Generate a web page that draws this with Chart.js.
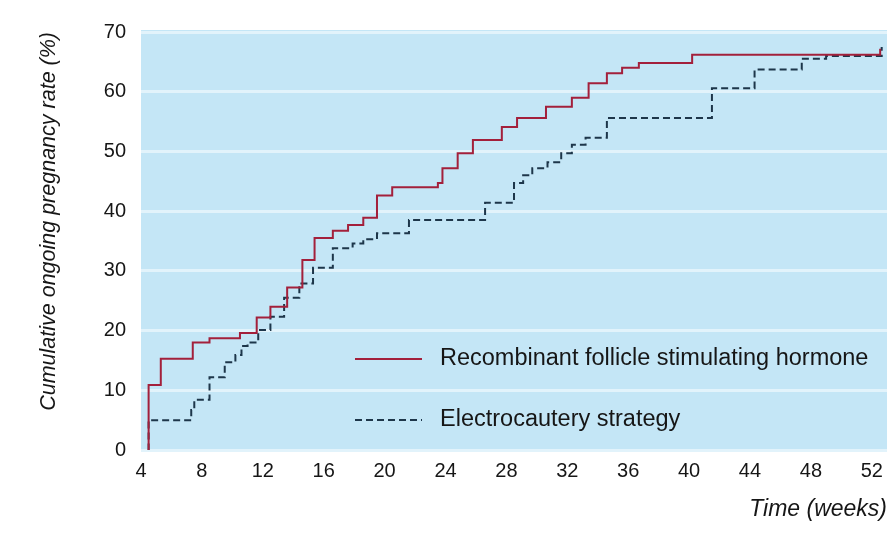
<!DOCTYPE html>
<html>
<head>
<meta charset="utf-8">
<script src="https://cdn.jsdelivr.net/npm/chart.js@4.4.1/dist/chart.umd.min.js"></script>
<style>
  html, body { margin: 0; padding: 0; background: #fff; }
  #wrap { width: 892px; height: 537px; }
</style>
</head>
<body>
<div id="wrap"><canvas id="kmChart" width="892" height="537"></canvas></div>
<script>
// Kaplan-Meier style steps: week of each event and cumulative rate (%) after it
const rfshWeeks = [4.46, 4.5, 5.3, 7.4, 8.5, 10.5, 11.6, 12.5, 13.6, 14.6, 15.4, 16.6, 17.6, 18.6, 19.5,
  20.5, 23.5, 23.8, 24.8, 25.8, 27.7, 28.7, 30.6, 32.3, 33.4, 34.6, 35.6, 36.7, 40.2, 52.5, 52.55];
const rfshRates = [0, 10.9, 15.3, 18.0, 18.7, 19.6, 22.2, 24.0, 27.2, 31.8, 35.5, 36.7, 37.7, 38.9, 42.6,
  44.0, 44.7, 47.2, 49.7, 51.9, 54.1, 55.6, 57.5, 59.0, 61.4, 63.1, 64.0, 64.8, 66.2, 66.2, 67.2];

const cauteryWeeks = [4.46, 4.5, 7.3, 7.5, 8.5, 9.5, 10.2, 10.6, 11.0, 11.7, 12.5, 13.4, 14.4, 15.3, 16.6,
  17.9, 18.6, 19.5, 21.6, 26.6, 28.5, 29.1, 29.7, 30.7, 31.6, 32.3, 33.2, 34.6, 41.5, 44.3, 47.4, 49.0, 52.6, 52.65];
const cauteryRates = [0, 5.0, 6.7, 8.4, 12.2, 14.7, 15.9, 17.4, 18.0, 20.1, 22.3, 25.5, 27.9, 30.5, 33.8,
  34.6, 35.3, 36.3, 38.5, 41.4, 44.7, 46.0, 47.2, 48.2, 49.7, 51.1, 52.3, 55.6, 60.6, 63.7, 65.5, 66.0, 66.0, 67.5];

const seriesNames = ["Recombinant follicle stimulating hormone", "Electrocautery strategy"];
const xTickLabels = [4, 8, 12, 16, 20, 24, 28, 32, 36, 40, 44, 48, 52];
const yTickLabels = [0, 10, 20, 30, 40, 50, 60, 70];

const FONT = "'Liberation Sans', Arial, Helvetica, sans-serif";
const INK = '#161616';

function toPoints(xs, ys) {
  return xs.map((x, i) => ({ x: x, y: ys[i] }));
}

// light blue panel behind the plot
const panelBg = {
  id: 'panelBg',
  beforeDraw(chart) {
    const { ctx, chartArea: a } = chart;
    ctx.save();
    ctx.fillStyle = '#c4e6f6';
    ctx.fillRect(a.left, a.top - 2, a.right - a.left, a.bottom - a.top + 4);
    ctx.restore();
  }
};

// legend sits inside the plot, lower right
const insideLegend = {
  id: 'insideLegend',
  afterDatasetsDraw(chart) {
    const { ctx, chartArea: a } = chart;
    const x0 = a.left + 214, x1 = a.left + 281, tx = a.left + 299;
    const rows = [a.bottom - 91, a.bottom - 30];
    ctx.save();
    chart.data.datasets.forEach((ds, i) => {
      ctx.strokeStyle = ds.borderColor;
      ctx.lineWidth = ds.borderWidth;
      ctx.setLineDash(ds.borderDash || []);
      ctx.beginPath();
      ctx.moveTo(x0, rows[i]);
      ctx.lineTo(x1, rows[i]);
      ctx.stroke();
      ctx.setLineDash([]);
      ctx.fillStyle = INK;
      ctx.font = '23.5px ' + FONT;
      ctx.textBaseline = 'middle';
      ctx.fillText(ds.label, tx, rows[i]);
    });
    ctx.restore();
  }
};

const ctx = document.getElementById('kmChart').getContext('2d');
new Chart(ctx, {
  type: 'line',
  data: {
    datasets: [
      {
        label: seriesNames[0],
        data: toPoints(rfshWeeks, rfshRates),
        borderColor: '#a3203b',
        borderWidth: 2,
        stepped: 'before',
        pointRadius: 0,
        fill: false
      },
      {
        label: seriesNames[1],
        data: toPoints(cauteryWeeks, cauteryRates),
        borderColor: '#1d364a',
        borderWidth: 2,
        borderDash: [7, 4],
        stepped: 'before',
        pointRadius: 0,
        fill: false
      }
    ]
  },
  options: {
    responsive: false,
    devicePixelRatio: 1,
    animation: false,
    layout: { padding: { top: 32, right: 4, left: 0, bottom: 0 } },
    plugins: {
      legend: { display: false },
      tooltip: { enabled: false }
    },
    scales: {
      x: {
        type: 'linear',
        min: 4,
        max: 53,
        afterBuildTicks(scale) { scale.ticks = xTickLabels.map(v => ({ value: v })); },
        afterFit(scale) { scale.height = 87; },
        grid: { display: false, drawTicks: false },
        border: { display: false },
        ticks: { color: INK, padding: 9, font: { family: FONT, size: 20 } },
        title: {
          display: true,
          text: 'Time (weeks)',
          align: 'end',
          color: INK,
          padding: { top: 0, bottom: 14 },
          font: { family: FONT, size: 23, style: 'italic' }
        }
      },
      y: {
        min: 0,
        max: 70,
        afterBuildTicks(scale) { scale.ticks = yTickLabels.map(v => ({ value: v })); },
        afterFit(scale) { scale.width = 141; },
        grid: { color: '#e2f3fb', lineWidth: 3, drawTicks: false },
        border: { display: false },
        ticks: { color: INK, padding: 15, font: { family: FONT, size: 20 } },
        title: {
          display: true,
          text: 'Cumulative ongoing pregnancy rate (%)',
          align: 'end',
          color: INK,
          padding: { top: 36, bottom: 0 },
          font: { family: FONT, size: 21.5, style: 'italic' }
        }
      }
    }
  },
  plugins: [panelBg, insideLegend]
});
</script>
</body>
</html>
